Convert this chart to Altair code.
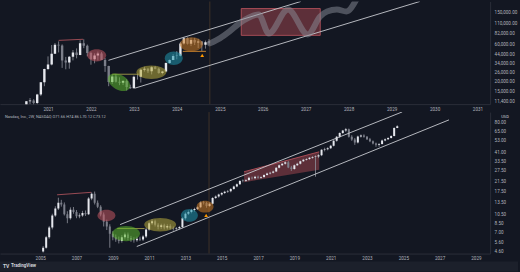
import altair as alt
import pandas as pd
import numpy as np

BG = "#131722"
TXT = "#b2b5be"
LINE = "#c8cad0"
FONT = "Roboto"

# ---------------- top panel: monthly candles (USD) ----------------
btc_start = "2020-07-01"
btc_open = [9140, 11350, 11650, 10780, 13800, 19700,
            28990, 33100, 45150, 58800, 57700, 37300, 35040, 41460, 47100, 43800, 61300, 57000,
            46200, 38480, 43180, 45500, 37630, 31800, 19930, 23300, 20050, 19420, 20490, 17170,
            16540, 23140, 23150, 28480, 29250, 27220, 30480, 29230, 25940, 26960, 34650, 37720,
            42280, 42580, 61130, 71290, 60640, 67490, 62680, 64620, 58970, 63330]
btc_high = [11450, 12480, 12070, 14100, 19900, 29300,
            41950, 58350, 61800, 64850, 59500, 41300, 42400, 50500, 52900, 67000, 69000, 59100,
            47990, 45800, 48200, 47450, 40000, 31900, 24670, 25200, 22800, 21100, 21480, 18400,
            23950, 25250, 29200, 31000, 29850, 31400, 31800, 30200, 27500, 35200, 38450, 44700,
            48970, 64000, 73800, 72800, 71980, 71950, 70000, 65600, 66500, 69500]
btc_low = [8990, 10500, 9850, 10380, 13200, 17600,
           28130, 32300, 45000, 47050, 30000, 28800, 29300, 37300, 39600, 43300, 53250, 42000,
           32900, 34300, 37150, 37700, 26700, 17600, 18800, 19600, 18150, 18200, 15480, 16260,
           16500, 21350, 19570, 26940, 25800, 24800, 28860, 25300, 24900, 26550, 34100, 37600,
           38500, 41880, 59000, 59200, 56550, 58400, 53500, 49000, 52550, 58900]
btc_close = [11350, 11650, 10780, 13800, 19700, 28990,
             33100, 45150, 58800, 57700, 37300, 35040, 41460, 47100, 43800, 61300, 57000, 46200,
             38480, 43180, 45500, 37630, 31800, 19930, 23300, 20050, 19420, 20490, 17170, 16540,
             23140, 23150, 28480, 29250, 27220, 30480, 29230, 25940, 26960, 34650, 37720, 42280,
             42580, 61130, 71290, 60640, 67490, 62680, 64620, 58970, 63330, 64000]

top_year_ticks = list(range(2021, 2032))
top_price_ticks = [11400, 15000, 20000, 26000, 34000, 44000, 60000, 82000, 110000, 150000]

# annotations (top)
top_ell_dates = ["2022-02-19", "2022-08-28", "2023-05-30", "2023-12-06", "2024-05-04"]
top_ell_price = [43240, 19770, 26420, 39640, 59500]
top_ell_w = [19, 24, 30, 18, 23]
top_ell_ratio = [0.65, 0.62, 0.45, 0.75, 0.62]
top_ell_tilt = [0, 30, 0, 0, 0]
ell_colors = ["#c25660", "#5cb82e", "#b8ac3c", "#1f95ad", "#cc7a22"]

top_chan_id = ["a", "a", "b", "b"]
top_chan_date = ["2022-05-30", "2026-11-20", "2023-01-08", "2029-08-28"]
top_chan_price = [37400, 207100, 16610, 207100]

top_seg_id = ["peak", "peak", "olive", "olive", "orange", "orange"]
top_seg_date = ["2021-04-01", "2021-10-27", "2022-07-01", "2023-02-10", "2024-02-21", "2024-09-05"]
top_seg_price = [66800, 69000, 24950, 24950, 48550, 48550]
seg_colors = {"peak": "#a8505a", "olive": "#a39b4a", "orange": "#d68a2e"}

top_rect = {"d1": ["2025-07-02"], "d2": ["2027-05-05"], "p1": [77300], "p2": [168700]}

path_dates = ["2024-10-08", "2025-01-01", "2025-03-25", "2025-06-14", "2025-09-06", "2025-11-28",
              "2026-02-21", "2026-08-04", "2027-01-19", "2027-05-05", "2027-07-02", "2027-09-24",
              "2027-12-13", "2028-03-07"]
path_price = [61250, 70800, 86700, 109300, 130100, 141900, 81800, 164000, 79500, 133900,
              154800, 164000, 154800, 219000]

top_tri = {"date": ["2024-08-04"], "price": [43240]}
top_cross = ["2024-10-08"]

# ---------------- bottom panel: Nasdaq, Inc. candles ----------------
ndaq_start = "2005-03-01"
ndaq_open = [4.6, 5.0, 6.3, 7.8, 10.2, 11.9, 13.5, 13.0, 10.5, 9.6,
             11.6, 11.0, 10.0, 10.2, 10.8, 10.5, 14.8, 16.5, 13.5, 12.4,
             10.4, 8.9, 8.0, 6.8, 6.3, 6.0, 5.8, 6.3, 6.7, 6.2,
             6.0, 5.9, 6.1, 6.0, 6.4, 7.5, 8.6, 9.0, 8.3, 7.9,
             8.2, 7.8, 8.1, 7.7, 7.6, 7.7, 7.9, 9.6, 10.6, 11.0,
             11.5, 11.8, 12.2, 13.6, 13.4, 12.6, 13.2, 15.0, 15.5, 16.2,
             16.8, 17.2, 17.4, 18.3, 19.3, 20.3, 21.8, 22.0, 22.3, 23.5,
             23.2, 24.0, 23.5, 23.8, 25.0, 25.8, 26.2, 27.0, 29.2, 31.0,
             32.0, 33.0, 29.5, 28.5, 31.0, 32.0, 33.8, 35.0, 35.5, 36.5,
             37.0, 37.5, 38.5, 43.5, 44.0, 45.0, 47.5, 53.0, 58.0, 63.0,
             66.5, 68.5, 58.0, 54.5, 51.0, 58.5, 59.5, 58.0, 55.0, 52.5,
             50.0, 48.5, 49.5, 53.5, 55.0, 56.5, 59.0, 70.5]
ndaq_high = [5.2, 6.5, 8.1, 10.6, 12.5, 15.1, 14.4, 13.6, 11.2, 12.2,
             12.3, 11.5, 10.7, 11.3, 11.4, 15.3, 17.0, 17.3, 14.2, 12.8,
             10.9, 9.3, 8.4, 7.2, 6.7, 6.4, 6.6, 7.0, 7.0, 6.5,
             6.3, 6.4, 6.4, 6.6, 7.8, 8.9, 9.4, 9.3, 8.6, 8.5,
             8.5, 8.4, 8.4, 8.0, 7.9, 8.1, 9.8, 10.9, 11.4, 11.8,
             12.1, 12.5, 13.9, 14.0, 13.8, 13.6, 15.3, 15.9, 16.5, 17.1,
             17.6, 17.9, 18.7, 19.7, 20.7, 22.3, 22.6, 22.8, 24.0, 24.1,
             24.5, 24.6, 24.3, 25.4, 26.3, 26.8, 27.5, 29.7, 31.5, 32.6,
             33.8, 33.9, 30.5, 31.5, 32.7, 34.3, 35.6, 36.2, 37.1, 37.8,
             38.5, 39.5, 44.0, 45.5, 46.0, 48.5, 53.8, 59.0, 64.0, 67.5,
             70.5, 69.5, 60.0, 56.5, 59.5, 61.0, 61.2, 59.0, 56.5, 53.5,
             51.0, 50.5, 54.5, 56.0, 57.5, 60.0, 71.5, 74.9]
ndaq_low = [4.5, 4.9, 6.1, 7.5, 9.9, 11.5, 12.4, 10.2, 8.6, 9.3,
            10.6, 9.6, 9.6, 9.9, 10.1, 10.3, 14.3, 13.0, 12.0, 10.0,
            8.0, 7.4, 5.0, 5.9, 5.7, 5.5, 5.6, 6.0, 5.9, 5.7,
            5.6, 5.7, 5.8, 5.8, 6.2, 7.3, 8.3, 8.0, 7.5, 7.6,
            7.5, 7.5, 7.5, 7.3, 7.4, 7.5, 7.7, 9.3, 10.3, 10.7,
            11.1, 11.5, 12.0, 13.0, 12.1, 12.3, 13.0, 14.7, 15.1, 15.8,
            16.4, 16.8, 17.0, 18.0, 19.0, 20.0, 21.2, 21.4, 21.8, 22.6,
            22.7, 23.0, 22.9, 23.4, 24.6, 25.2, 25.8, 26.6, 28.8, 30.4,
            31.3, 29.0, 27.3, 28.0, 30.4, 31.4, 33.2, 34.3, 34.8, 35.7,
            24.0, 36.2, 37.8, 42.0, 43.0, 44.2, 46.8, 52.0, 56.5, 61.5,
            64.5, 57.0, 53.0, 48.5, 50.0, 57.0, 56.8, 54.0, 51.5, 49.0,
            46.5, 46.5, 48.8, 52.5, 54.0, 55.8, 58.5, 70.1]
ndaq_close = [5.0, 6.3, 7.8, 10.2, 11.9, 13.5, 13.0, 10.5, 9.6, 11.6,
              11.0, 10.0, 10.2, 10.8, 10.5, 14.8, 16.5, 13.5, 12.4, 10.4,
              8.9, 8.0, 6.8, 6.3, 6.0, 5.8, 6.3, 6.7, 6.2, 6.0,
              5.9, 6.1, 6.0, 6.4, 7.5, 8.6, 9.0, 8.3, 7.9, 8.2,
              7.8, 8.1, 7.7, 7.6, 7.7, 7.9, 9.6, 10.6, 11.0, 11.5,
              11.8, 12.2, 13.6, 13.4, 12.6, 13.2, 15.0, 15.5, 16.2, 16.8,
              17.2, 17.4, 18.3, 19.3, 20.3, 21.8, 22.0, 22.3, 23.5, 23.2,
              24.0, 23.5, 23.8, 25.0, 25.8, 26.2, 27.0, 29.2, 31.0, 32.0,
              33.0, 29.5, 28.5, 31.0, 32.0, 33.8, 35.0, 35.5, 36.5, 37.0,
              37.5, 38.5, 43.5, 44.0, 45.0, 47.5, 53.0, 58.0, 63.0, 66.5,
              68.5, 58.0, 54.5, 51.0, 58.5, 59.5, 58.0, 55.0, 52.5, 50.0,
              48.5, 49.5, 53.5, 55.0, 56.5, 59.0, 70.5, 73.1]

bot_year_ticks = list(range(2005, 2030, 2))
bot_price_ticks = [4.6, 5.6, 7.0, 8.5, 10.5, 13.5, 17.5, 21.5, 27.5, 33.5, 41.0, 53.0, 65.0, 80.0]

bot_ell_dates = ["2008-08-25", "2009-09-24", "2011-08-11", "2013-03-21", "2014-01-30"]
bot_ell_price = [10.2, 6.84, 8.3, 10.2, 12.4]
bot_ell_w = [18, 28, 32, 17, 17]
bot_ell_ratio = [0.65, 0.55, 0.42, 0.75, 0.7]
bot_ell_tilt = [0, 0, 0, 0, 0]

bot_chan_id = ["a", "a", "b", "b"]
bot_chan_date = ["2009-05-27", "2024-12-10", "2010-04-27", "2027-07-09"]
bot_chan_price = [8.34, 100.4, 5.14, 84.2]

bot_seg_id = ["peak", "peak", "olive", "olive"]
bot_seg_date = ["2005-12-06", "2007-10-23", "2009-03-29", "2010-10-01"]
bot_seg_price = [16.1, 17.0, 7.64, 7.64]

bot_band = {"date": ["2016-03-25", "2020-05-15"], "top": [26.8, 41.6], "bottom": [21.3, 28.0]}
bot_tri = {"date": ["2014-02-21"], "price": [10.2]}
bot_cross = ["2014-04-20"]

header = "Nasdaq, Inc., 2W, NASDAQ  O71.66  H74.86  L70.12  C73.12"


def ell_path(r, tilt):
    if tilt:
        return f"M-0.87,-0.5 A1,{r} {tilt} 1,0 0.87,0.5 A1,{r} {tilt} 1,0 -0.87,-0.5 Z"
    return f"M-1,0 A1,{r} 0 1,0 1,0 A1,{r} 0 1,0 -1,0 Z"


def panel(candles, bar_size, xdom, xticks, ydom, yticks, yfmt, W, H,
          ell, chans, segs, tri, cross, extras):
    xscale = alt.Scale(domain=xdom)
    xaxis = alt.Axis(values=[alt.DateTime(year=y, month=1, date=1) for y in xticks],
                     format="%Y", labelOverlap=False, labelFlush=False,
                     labelPadding=2, orient="bottom")
    yscale = alt.Scale(type="log", domain=ydom, nice=False)
    yaxis = alt.Axis(values=yticks, format=yfmt, orient="right", labelOverlap=False,
                     labelPadding=4, labelFlush=False)

    def X(f):
        return alt.X(f"{f}:T", scale=xscale, axis=xaxis, title=None)

    def Y(f):
        return alt.Y(f"{f}:Q", scale=yscale, axis=yaxis, title=None)

    base = alt.Chart(candles)
    wick = base.mark_rule(color="#8f929c", strokeWidth=0.8, clip=True).encode(
        x=X("date"), y=Y("low"), y2="high")
    body = base.mark_bar(size=bar_size, clip=True).encode(
        x=X("date"), y=Y("open"), y2="close",
        color=alt.Color("dir:N", scale=alt.Scale(domain=["up", "down"], range=["#e6e8ee", "#7c7f8a"]),
                        legend=None))
    crossl = alt.Chart(pd.DataFrame({"date": pd.to_datetime(cross)})).mark_rule(
        color="#3e3229", strokeWidth=1).encode(x=X("date"))
    chan = alt.Chart(chans).mark_line(color=LINE, strokeWidth=0.9, clip=True).encode(
        x=X("date"), y=Y("price"), detail="id:N")
    seg = alt.Chart(segs).mark_line(strokeWidth=0.9, clip=True).encode(
        x=X("date"), y=Y("price"), detail="id:N",
        color=alt.Color("col:N", scale=None))
    ells = alt.Chart(ell).mark_point(filled=True, fillOpacity=0.55, strokeOpacity=0.8,
                                     strokeWidth=0.6).encode(
        x=X("date"), y=Y("price"),
        shape=alt.Shape("shape:N", scale=None),
        size=alt.Size("size:Q", scale=None),
        color=alt.Color("color:N", scale=None))
    tri_l = alt.Chart(tri).mark_point(shape="triangle-up", filled=True, size=14,
                                      color="#ff9800", opacity=1).encode(
        x=X("date"), y=Y("price"))
    layers = extras(X, Y, "under") + [crossl] + extras(X, Y, "pre") + \
        [wick, body, chan, seg, ells, tri_l] + extras(X, Y, "post")
    return alt.layer(*layers).properties(width=W, height=H)


# ---------- frames ----------
top_c = pd.DataFrame({"date": pd.date_range(btc_start, periods=len(btc_open), freq="MS"),
                      "open": btc_open, "high": btc_high, "low": btc_low, "close": btc_close})
top_c["dir"] = np.where(top_c["close"] >= top_c["open"], "up", "down")

bot_c = pd.DataFrame({"date": pd.date_range(ndaq_start, periods=len(ndaq_open), freq="2MS"),
                      "open": ndaq_open, "high": ndaq_high, "low": ndaq_low, "close": ndaq_close})
bot_c["dir"] = np.where(bot_c["close"] >= bot_c["open"], "up", "down")

top_ell = pd.DataFrame({"date": pd.to_datetime(top_ell_dates), "price": top_ell_price,
                        "size": [w * w for w in top_ell_w],
                        "shape": [ell_path(r, t) for r, t in zip(top_ell_ratio, top_ell_tilt)],
                        "color": ell_colors})
bot_ell = pd.DataFrame({"date": pd.to_datetime(bot_ell_dates), "price": bot_ell_price,
                        "size": [w * w for w in bot_ell_w],
                        "shape": [ell_path(r, t) for r, t in zip(bot_ell_ratio, bot_ell_tilt)],
                        "color": ell_colors})

top_chan = pd.DataFrame({"id": top_chan_id, "date": pd.to_datetime(top_chan_date), "price": top_chan_price})
bot_chan = pd.DataFrame({"id": bot_chan_id, "date": pd.to_datetime(bot_chan_date), "price": bot_chan_price})
top_seg = pd.DataFrame({"id": top_seg_id, "date": pd.to_datetime(top_seg_date), "price": top_seg_price,
                        "col": [seg_colors[i] for i in top_seg_id]})
bot_seg = pd.DataFrame({"id": bot_seg_id, "date": pd.to_datetime(bot_seg_date), "price": bot_seg_price,
                        "col": [seg_colors[i] for i in bot_seg_id]})
top_tri_df = pd.DataFrame({"date": pd.to_datetime(top_tri["date"]), "price": top_tri["price"]})
bot_tri_df = pd.DataFrame({"date": pd.to_datetime(bot_tri["date"]), "price": bot_tri["price"]})

rect_df = pd.DataFrame({"d1": pd.to_datetime(top_rect["d1"]), "d2": pd.to_datetime(top_rect["d2"]),
                        "p1": top_rect["p1"], "p2": top_rect["p2"]})
path_df = pd.DataFrame({"date": pd.to_datetime(path_dates), "price": path_price})
band_df = pd.DataFrame({"date": pd.to_datetime(bot_band["date"]), "top": bot_band["top"],
                        "bottom": bot_band["bottom"]})

TW, TH = 492, 103
BW, BH = 492, 142


def top_extras(X, Y, stage):
    if stage == "under":
        return []
    if stage == "pre":
        rect = alt.Chart(rect_df).mark_rect(fill="#a8474f", fillOpacity=0.5, stroke="#c25660",
                                            strokeWidth=0.8).encode(
            x=X("d1"), x2="d2", y=Y("p1"), y2="p2")
        return [rect]
    pathl = alt.Chart(path_df).mark_line(interpolate="monotone", strokeWidth=6, strokeCap="round",
                                         color="#8a8d97", opacity=0.5, clip=True).encode(
        x=X("date"), y=Y("price"))
    return [pathl]


def bot_extras(X, Y, stage):
    if stage == "under":
        footer = alt.Chart(pd.DataFrame({"t": [""]})).mark_rect(color="#1c202b").encode(
            x=alt.value(0), x2=alt.value(BW + 28), y=alt.value(BH + 8), y2=alt.value(BH + 18))
        return [footer]
    if stage == "pre":
        band = alt.Chart(band_df).mark_area(color="#a8474f", opacity=0.5,
                                            line={"color": "#c25660", "strokeWidth": 0.8}).encode(
            x=X("date"), y=Y("top"), y2="bottom")
        return [band]
    hdr = alt.Chart(pd.DataFrame({"t": [header]})).mark_text(
        align="left", baseline="top", fontSize=4, font=FONT, color=TXT).encode(
        text="t:N", x=alt.value(5), y=alt.value(3))
    usd = alt.Chart(pd.DataFrame({"t": ["USD"]})).mark_text(
        align="center", baseline="middle", fontSize=4, font=FONT, color="#d1d4dc").encode(
        text="t:N", x=alt.value(BW + 15), y=alt.value(5))
    logo = alt.Chart(pd.DataFrame({"t": ["TV"]})).mark_text(
        align="left", baseline="middle", fontSize=5, font=FONT, fontWeight="bold", color="#d1d4dc").encode(
        text="t:N", x=alt.value(3), y=alt.value(BH + 13))
    tv = alt.Chart(pd.DataFrame({"t": ["TradingView"]})).mark_text(
        align="left", baseline="middle", fontSize=4.5, font=FONT, fontWeight="bold", color="#d1d4dc").encode(
        text="t:N", x=alt.value(11), y=alt.value(BH + 13))
    return [hdr, usd, logo, tv]


top_chart = panel(top_c, 2.4,
                  [alt.DateTime(year=2020, month=1, date=1), alt.DateTime(year=2031, month=3, date=7)],
                  top_year_ticks, [10450, 207000], top_price_ticks, ",.2f", TW, TH,
                  top_ell, top_chan, top_seg, top_tri_df, top_cross, top_extras)

bot_chart = panel(bot_c, 2.0,
                  [alt.DateTime(year=2003, month=1, date=23), alt.DateTime(year=2029, month=7, date=5)],
                  bot_year_ticks, [4.40, 100], bot_price_ticks, ".2f", BW, BH,
                  bot_ell, bot_chan, bot_seg, bot_tri_df, bot_cross, bot_extras)

chart = alt.vconcat(top_chart, bot_chart, spacing=0).properties(
    background=BG,
    padding={"left": 0, "top": 0, "right": 2, "bottom": 2},
).configure_view(strokeWidth=0).configure_axis(
    labelFont=FONT, labelFontSize=4.6, labelColor=TXT, domainColor="#2a2e39",
    domainWidth=1, tickSize=0, grid=False,
).configure_concat(spacing=0)

chart.save("out.html", embed_options={"renderer": "svg", "actions": False})
